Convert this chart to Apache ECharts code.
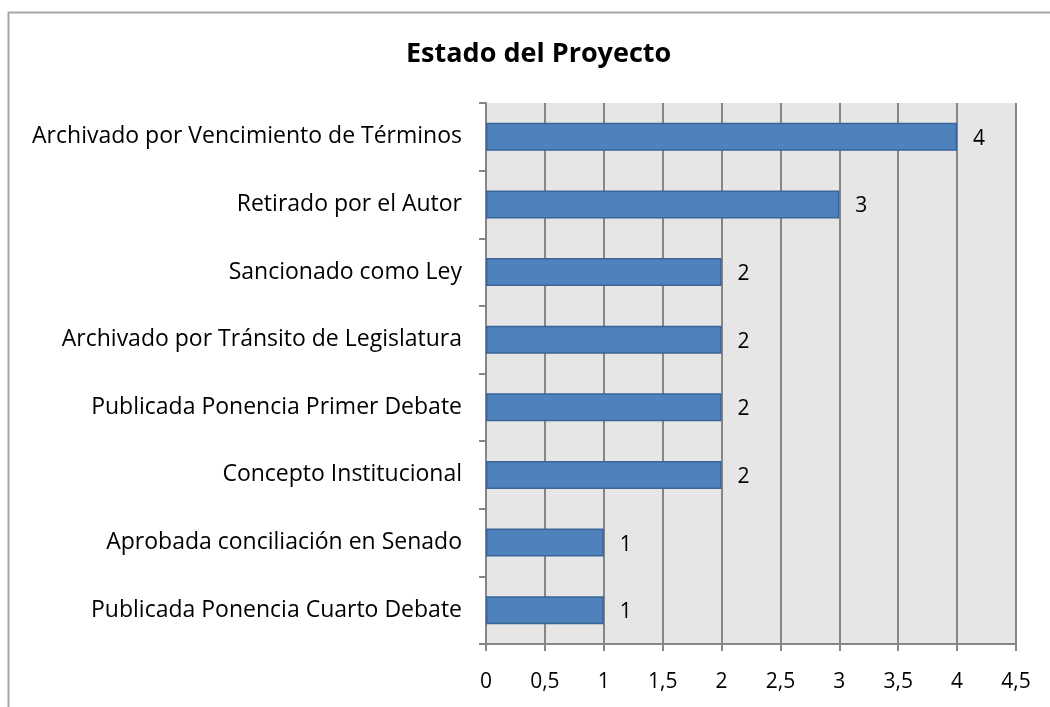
<!DOCTYPE html>
<html>
<head>
<meta charset="utf-8">
<script src="https://cdn.jsdelivr.net/npm/echarts@6/dist/echarts.min.js"></script>
<style>
  html, body { margin: 0; padding: 0; background: #fff; }
  #chart { width: 1050px; height: 707px; }
</style>
</head>
<body>
<div id="chart"></div>
<script>
// categories from bottom to top (category axis draws first item at the bottom)
var estados = [
    'Publicada Ponencia Cuarto Debate',
    'Aprobada conciliación en Senado',
    'Concepto Institucional',
    'Publicada Ponencia Primer Debate',
    'Archivado por Tránsito de Legislatura',
    'Sancionado como Ley',
    'Retirado por el Autor',
    'Archivado por Vencimiento de Términos'
];
var proyectos = [1, 1, 2, 2, 2, 2, 3, 4];

var myChart = echarts.init(document.getElementById('chart'));
var option = {
    backgroundColor: '#ffffff',
    textStyle: {
        fontFamily: '"Open Sans", "Noto Sans", sans-serif'
    },
    title: {
        text: 'Estado del Proyecto',
        left: 401,
        top: 36,
        textStyle: {
            color: '#000000',
            fontSize: 27,
            fontWeight: 'bold',
            fontFamily: '"Open Sans", "Noto Sans", sans-serif'
        }
    },
    graphic: [
        {
            type: 'rect',
            shape: { x: 8.5, y: 12.5, width: 1100, height: 800 },
            style: { fill: 'none', stroke: '#a6a6a6', lineWidth: 2 },
            silent: true
        }
    ],
    grid: {
        left: 486,
        right: 34,
        top: 103,
        bottom: 63,
        show: true,
        backgroundColor: '#e6e6e6',
        borderWidth: 0
    },
    xAxis: {
        type: 'value',
        min: 0,
        max: 4.5,
        interval: 0.5,
        axisLine: { show: true, lineStyle: { color: '#868686', width: 2 } },
        axisTick: { show: true, length: 7, lineStyle: { color: '#868686', width: 2 } },
        axisLabel: {
            color: '#000000',
            fontSize: 21,
            margin: 28,
            formatter: function (v) { return String(v).replace('.', ','); }
        },
        splitLine: { show: true, lineStyle: { color: '#868686', width: 2 } }
    },
    yAxis: {
        type: 'category',
        data: estados,
        axisLine: { show: true, lineStyle: { color: '#868686', width: 2 } },
        axisTick: { show: true, length: 7, inside: false, lineStyle: { color: '#868686', width: 2 } },
        axisLabel: {
            color: '#000000',
            fontSize: 23,
            margin: 24
        },
        splitLine: { show: false }
    },
    series: [
        {
            type: 'bar',
            data: proyectos,
            barWidth: 28,
            itemStyle: {
                color: '#4f81bd',
                borderColor: '#3a6596',
                borderWidth: 1.5
            },
            label: {
                show: true,
                position: 'right',
                distance: 16,
                offset: [0, 2],
                color: '#000000',
                fontSize: 21
            }
        }
    ]
};
myChart.setOption(option);
</script>
</body>
</html>
